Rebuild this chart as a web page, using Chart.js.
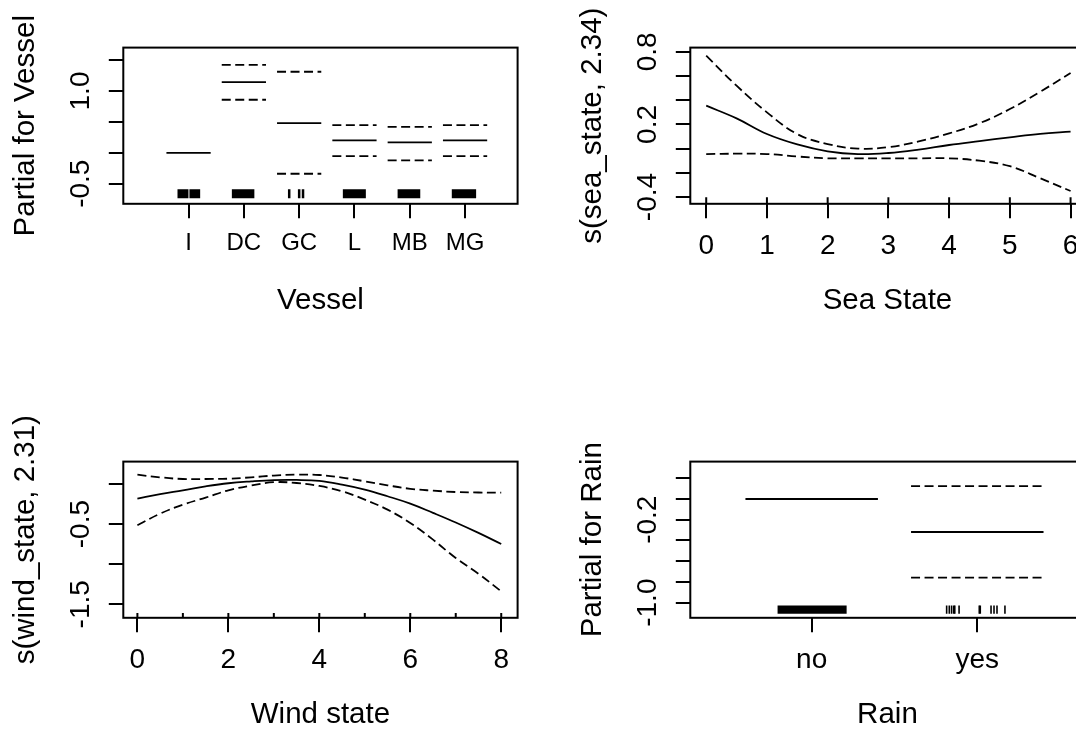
<!DOCTYPE html>
<html>
<head>
<meta charset="utf-8">
<script src="https://cdn.jsdelivr.net/npm/chart.js@4.4.1/dist/chart.umd.min.js"></script>
<style>
    html, body { margin: 0; padding: 0; background: #fff; overflow: hidden; }
    body { width: 1076px; height: 731px; position: relative; }
    .panel { position: absolute; width: 538px; height: 365px; }
</style>
</head>
<body>
<div class="panel" style="left:0;top:0"><canvas id="vessel-chart" width="538" height="365"></canvas></div>
<div class="panel" style="left:567px;top:0"><canvas id="sea-chart" width="538" height="365"></canvas></div>
<div class="panel" style="left:0;top:414px"><canvas id="wind-chart" width="538" height="365"></canvas></div>
<div class="panel" style="left:567px;top:414px"><canvas id="rain-chart" width="538" height="365"></canvas></div>
<script>
// Vessel (factor term)
const vesselLevels = ['I', 'DC', 'GC', 'L', 'MB', 'MG'];
const vesselFit = [0, 1.144, 0.481, 0.2, 0.168, 0.2];
const vesselUpper = [null, 1.424, 1.311, 0.448, 0.421, 0.448];
const vesselLower = [null, 0.858, -0.339, -0.053, -0.123, -0.053];
const vesselRugSpans = [[0.80, 0.998], [1.016, 1.21], [1.783, 2.19], [3.79, 4.206], [4.78, 5.19], [5.76, 6.2]];
const vesselRugTicks = [2.82, 3.0, 3.07];
const vesselYTicks = [-0.5, 0, 0.5, 1.0, 1.5];
const vesselYLabels = ['-0.5', '', '', '1.0', ''];

// Sea state smooth
const seaX = [0, 0.5, 1, 1.5, 2, 2.5, 3, 3.5, 4, 4.5, 5, 5.5, 6];
const seaFit = [0.355, 0.25, 0.121, 0.035, -0.022, -0.045, -0.036, -0.008, 0.03, 0.062, 0.093, 0.122, 0.14];
const seaUpper = [0.768, 0.52, 0.30, 0.12, 0.038, 0.0, 0.012, 0.06, 0.126, 0.21, 0.327, 0.47, 0.625];
const seaLower = [-0.045, -0.042, -0.045, -0.065, -0.08, -0.08, -0.08, -0.08, -0.08, -0.1, -0.145, -0.245, -0.35];
const seaRug = [0, 1, 2, 3, 4, 5, 6];
const seaXTicks = [0, 1, 2, 3, 4, 5, 6];
const seaYTicks = [-0.4, -0.2, 0, 0.2, 0.4, 0.6, 0.8];
const seaYLabels = ['-0.4', '', '', '0.2', '', '', '0.8'];

// Wind state smooth
const windX = [0, 0.5, 1, 1.5, 2, 2.5, 3, 3.5, 4, 4.5, 5, 5.5, 6, 6.5, 7, 7.5, 8];
const windFit = [-0.183, -0.125, -0.079, -0.03, 0.009, 0.032, 0.048, 0.05, 0.038, -0.008, -0.07, -0.153, -0.245, -0.36, -0.48, -0.61, -0.748];
const windUpper = [0.116, 0.083, 0.062, 0.062, 0.066, 0.083, 0.105, 0.116, 0.112, 0.08, 0.033, -0.017, -0.06, -0.083, -0.1, -0.106, -0.108];
const windLower = [-0.515, -0.37, -0.258, -0.17, -0.079, -0.02, 0.022, 0.012, -0.025, -0.091, -0.195, -0.32, -0.486, -0.694, -0.923, -1.12, -1.338];
const windRug = [0, 1, 2, 3, 4, 5, 6, 7, 8];
const windXTicks = [0, 2, 4, 6, 8];
const windYTicks = [-1.5, -1.0, -0.5, 0];
const windYLabels = ['-1.5', '', '-0.5', ''];

// Rain (factor term)
const rainLevels = ['no', 'yes'];
const rainFit = [0, -0.318];
const rainUpper = [null, 0.125];
const rainLower = [null, -0.759];
const rainRugSpans = [[0.794, 1.211]];
const rainRugTicks = [1.815, 1.831, 1.845, 1.858, 1.864, 1.89, 2.012, 2.018, 2.083, 2.101, 2.119, 2.167];
const rainYTicks = [-1.0, -0.8, -0.6, -0.4, -0.2, 0, 0.2];
const rainYLabels = ['-1.0', '', '', '', '-0.2', '', ''];

Chart.defaults.font.family = "'Liberation Sans', Arial, sans-serif";
Chart.defaults.color = '#000';

const W = 538, H = 365;
const AREA = { left: 123.3, top: 47.6, right: 517.6, bottom: 203.8 };
const DASH = [9, 4.5];

// box around the plot region
const framePlugin = {
    id: 'frame',
    afterDraw(chart) {
        const a = chart.chartArea;
        const ctx = chart.ctx;
        ctx.save();
        ctx.strokeStyle = '#000';
        ctx.lineWidth = 2;
        ctx.strokeRect(a.left, a.top, a.right - a.left, a.bottom - a.top);
        ctx.restore();
    }
};

function axisGrid() {
    return { drawOnChartArea: false, tickLength: 14.5, tickWidth: 2, lineWidth: 2, tickColor: '#000', color: '#000' };
}

function buildScales(o) {
    return {
        x: {
            type: 'linear',
            min: o.xMin,
            max: o.xMax,
            afterFit: s => { s.height = H - AREA.bottom; },
            afterBuildTicks: s => { s.ticks = o.xTicks.map(v => ({ value: v })); },
            grid: axisGrid(),
            border: { display: false },
            ticks: {
                autoSkip: false, maxRotation: 0, padding: 13.5,
                font: { size: o.xFontSize || 28, lineHeight: 1 },
                callback: (v, i) => o.xLabels[i]
            },
            title: { display: true, text: o.xTitle, font: { size: 29.5, lineHeight: 1 }, padding: { top: 0, bottom: 49 } }
        },
        y: {
            type: 'linear',
            min: o.yMin,
            max: o.yMax,
            afterFit: s => { s.width = AREA.left; },
            afterBuildTicks: s => { s.ticks = o.yTicks.map(v => ({ value: v })); },
            grid: axisGrid(),
            border: { display: false },
            ticks: {
                autoSkip: false, minRotation: 90, maxRotation: 90, crossAlign: 'center', padding: 3.7,
                font: { size: 28, lineHeight: 1 },
                callback: (v, i) => o.yLabels[i]
            },
            title: { display: true, text: o.yTitle, font: { size: 29.5, lineHeight: 1 }, padding: { top: 10.75, bottom: 0 } }
        }
    };
}

function lineSet(points, dashed, extra) {
    return Object.assign({
        data: points,
        showLine: true,
        borderColor: '#000',
        borderWidth: 1.8,
        borderDash: dashed ? DASH : [],
        pointRadius: 0,
        spanGaps: false,
        tension: 0
    }, extra || {});
}

// flat segments for a factor term, one per level
function levelSegments(values) {
    const pts = [];
    values.forEach((v, i) => {
        if (v === null) return;
        pts.push({ x: i + 1 - 0.4, y: v }, { x: i + 1 + 0.4, y: v }, { x: i + 1 + 0.4, y: null });
    });
    return pts;
}

function rugSpans(spans, y) {
    const pts = [];
    spans.forEach(s => pts.push({ x: s[0], y: y }, { x: s[1], y: y }, { x: s[1], y: null }));
    return pts;
}

function rugTicks(xs, y, radius, width) {
    return {
        data: xs.map(x => ({ x: x, y: y })),
        showLine: false,
        pointStyle: 'line',
        rotation: 90,
        pointRadius: radius,
        pointBorderWidth: width,
        pointBorderColor: '#000',
        pointBackgroundColor: '#000'
    };
}

function curve(xs, ys) {
    return xs.map((x, i) => ({ x: x, y: ys[i] }));
}

function makeChart(id, datasets, o) {
    new Chart(document.getElementById(id), {
        type: 'scatter',
        data: { datasets: datasets },
        options: {
            responsive: false,
            animation: false,
            layout: { padding: { left: 0, top: AREA.top, right: W - AREA.right, bottom: 0 } },
            plugins: { legend: { display: false }, tooltip: { enabled: false } },
            scales: buildScales(o)
        },
        plugins: [framePlugin]
    });
}

makeChart('vessel-chart', [
    lineSet(levelSegments(vesselFit), false),
    lineSet(levelSegments(vesselUpper), true),
    lineSet(levelSegments(vesselLower), true),
    lineSet(rugSpans(vesselRugSpans, -0.663), false, { borderWidth: 9 }),
    rugTicks(vesselRugTicks, -0.663, 4.5, 2.5)
], {
    xMin: -0.18, xMax: 6.95, yMin: -0.825, yMax: 1.702,
    xTicks: [1, 2, 3, 4, 5, 6], xLabels: vesselLevels, xFontSize: 24,
    yTicks: vesselYTicks, yLabels: vesselYLabels,
    xTitle: 'Vessel', yTitle: 'Partial for Vessel'
});

makeChart('sea-chart', [
    lineSet(curve(seaX, seaFit), false, { tension: 0.4 }),
    lineSet(curve(seaX, seaUpper), true, { tension: 0.4 }),
    lineSet(curve(seaX, seaLower), true, { tension: 0.4 }),
    rugTicks(seaRug, -0.429, 3.3, 2)
], {
    xMin: -0.262, xMax: 6.231, yMin: -0.456, yMax: 0.835,
    xTicks: seaXTicks, xLabels: seaXTicks.map(String),
    yTicks: seaYTicks, yLabels: seaYLabels,
    xTitle: 'Sea State', yTitle: 's(sea_state, 2.34)'
});

makeChart('wind-chart', [
    lineSet(curve(windX, windFit), false, { tension: 0.4 }),
    lineSet(curve(windX, windUpper), true, { tension: 0.4 }),
    lineSet(curve(windX, windLower), true, { tension: 0.4 }),
    rugTicks(windRug, -1.638, 2.4, 2)
], {
    xMin: -0.31, xMax: 8.36, yMin: -1.668, yMax: 0.279,
    xTicks: windXTicks, xLabels: windXTicks.map(String),
    yTicks: windYTicks, yLabels: windYLabels,
    xTitle: 'Wind state', yTitle: 's(wind_state, 2.31)'
});

makeChart('rain-chart', [
    lineSet(levelSegments(rainFit), false),
    lineSet(levelSegments(rainUpper), true),
    lineSet(levelSegments(rainLower), true),
    lineSet(rugSpans(rainRugSpans, -1.067), false, { borderWidth: 8.2 }),
    rugTicks(rainRugTicks, -1.067, 4.1, 1.6)
], {
    xMin: 0.267, xMax: 2.648, yMin: -1.146, yMax: 0.361,
    xTicks: [1, 2], xLabels: rainLevels,
    yTicks: rainYTicks, yLabels: rainYLabels,
    xTitle: 'Rain', yTitle: 'Partial for Rain'
});
</script>
</body>
</html>
